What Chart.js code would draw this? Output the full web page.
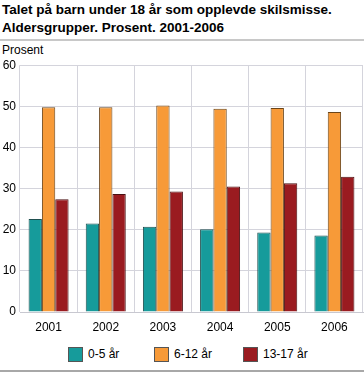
<!DOCTYPE html>
<html>
<head>
<meta charset="utf-8">
<script src="https://cdn.jsdelivr.net/npm/chart.js@4.4.0/dist/chart.umd.min.js"></script>
<style>
    body { margin: 0; background: #fff; font-family: "Liberation Sans", Arial, sans-serif; }
    #wrap { position: relative; width: 364px; height: 373px; }
    #title { position: absolute; left: 2px; top: 1px; font-size: 13.5px; font-weight: bold; line-height: 18px; color: #000; }
    .rule { position: absolute; left: 0; width: 364px; background: #c8c8c8; }
    #unit { position: absolute; left: 2px; top: 43px; font-size: 12px; color: #000; }
    #box { position: absolute; left: 0; top: 54px; width: 364px; height: 286px; }
    #legend { position: absolute; top: 347px; left: 0; width: 364px; font-size: 12px; }
    .item { position: absolute; top: 0; height: 15px; line-height: 15px; }
    .sw { position: absolute; left: 0; top: 0; width: 13px; height: 13px; border: 1px solid #555; }
    .lbl { position: absolute; left: 20px; top: 0; white-space: nowrap; }
</style>
</head>
<body>
<div id="wrap">
    <div id="title">Talet på barn under 18 år som opplevde skilsmisse.<br>Aldersgrupper. Prosent. 2001-2006</div>
    <div class="rule" style="top:39px;height:2px;"></div>
    <div id="unit">Prosent</div>
    <div id="box"><canvas id="chart"></canvas></div>
    <div id="legend"></div>
    <div class="rule" style="top:370px;height:2px;background:#a8a8a8;"></div>
</div>
<script>
// data
const years = ['2001', '2002', '2003', '2004', '2005', '2006'];
const age0to5 = [22.6, 21.5, 20.7, 20.1, 19.3, 18.6];
const age6to12 = [49.8, 49.8, 50.2, 49.4, 49.6, 48.6];
const age13to17 = [27.4, 28.7, 29.3, 30.5, 31.3, 32.9];
const seriesNames = ['0-5 år', '6-12 år', '13-17 år'];
const fills = ['#169b9b', '#f79a38', '#9a1b20'];
const edges = ['#1f4f4f', '#6b4519', '#4a1012'];
const legendX = [68, 154, 243];

Chart.defaults.font.family = '"Liberation Sans", Arial, sans-serif';
Chart.defaults.font.size = 12;
Chart.defaults.color = '#000';

// legend i html
const legend = document.getElementById('legend');
seriesNames.forEach((name, i) => {
    const item = document.createElement('div');
    item.className = 'item';
    item.style.left = legendX[i] + 'px';
    item.innerHTML = '<div class="sw" style="background:' + fills[i] + '"></div><div class="lbl">' + name + '</div>';
    legend.appendChild(item);
});

const ctx = document.getElementById('chart').getContext('2d');
new Chart(ctx, {
    type: 'bar',
    data: {
        labels: years,
        datasets: [age0to5, age6to12, age13to17].map((d, i) => ({
            label: seriesNames[i],
            data: d,
            backgroundColor: fills[i],
            borderColor: edges[i],
            borderWidth: 1
        }))
    },
    options: {
        responsive: true,
        maintainAspectRatio: false,
        animation: false,
        layout: { padding: { top: 8, right: 1, left: 0, bottom: 0 } },
        datasets: { bar: { barPercentage: 1, categoryPercentage: 0.7 } },
        plugins: {
            tooltip: { enabled: false },
            legend: { display: false }
        },
        scales: {
            x: {
                grid: { color: '#d4d4dc', offset: true, drawTicks: false },
                border: { color: '#c8c8d0' },
                ticks: { padding: 8 },
                afterFit: s => { s.height = 28; }
            },
            y: {
                min: 0,
                max: 60,
                ticks: { stepSize: 10, padding: 4 },
                grid: { color: '#d4d4dc', drawTicks: false },
                border: { display: false },
                afterFit: s => { s.width = 20; }
            }
        }
    }
});
</script>
</body>
</html>
